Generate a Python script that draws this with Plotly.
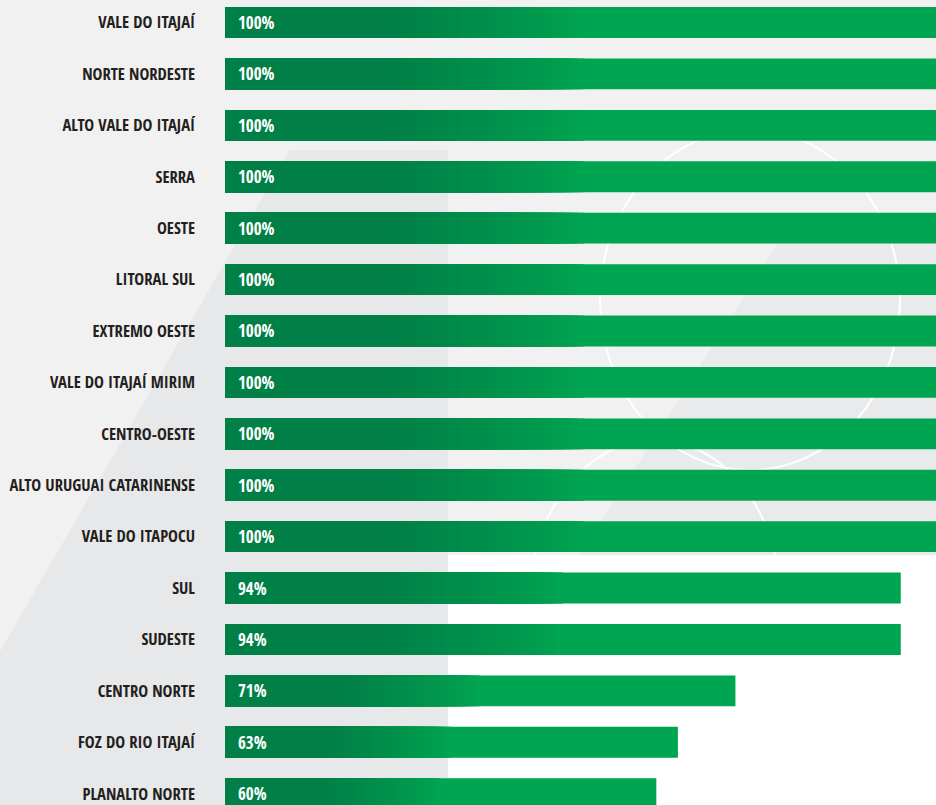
import plotly.graph_objects as go

categories = ["VALE DO ITAJAÍ", "NORTE NORDESTE", "ALTO VALE DO ITAJAÍ", "SERRA", "OESTE",
              "LITORAL SUL", "EXTREMO OESTE", "VALE DO ITAJAÍ MIRIM", "CENTRO-OESTE",
              "ALTO URUGUAI CATARINENSE", "VALE DO ITAPOCU", "SUL", "SUDESTE",
              "CENTRO NORTE", "FOZ DO RIO ITAJAÍ", "PLANALTO NORTE"]
values = [100, 100, 100, 100, 100, 100, 100, 100, 100, 100, 100, 94, 94, 71, 63, 60]
value_labels = [f"{v}%" for v in values]

W, H = 936, 805
ML = 225
DARK = (0, 127, 70)
BRIGHT = (0, 165, 81)
FONT = "Open Sans Condensed, Roboto Condensed, sans-serif"

def mix(t):
    c = [round(BRIGHT[i] + (DARK[i] - BRIGHT[i]) * t) for i in range(3)]
    return f"rgb({c[0]},{c[1]},{c[2]})"

fig = go.Figure()
BW = 0.6
fig.add_trace(go.Bar(y=categories, x=values, orientation="h", width=BW,
                     marker=dict(color=mix(0), line=dict(width=0)), hoverinfo="skip"))
N = 28
f_hi, f_lo = 0.5, 0.23
for k in range(N + 1):
    t = k / N
    f = f_hi - (f_hi - f_lo) * t
    fig.add_trace(go.Bar(y=categories, x=[v * f for v in values], orientation="h", width=BW,
                         marker=dict(color=mix(t ** 0.8), line=dict(width=0)), hoverinfo="skip"))

annotations = []
for c, lab in zip(categories, value_labels):
    annotations.append(dict(x=0, y=c, xref="x", yref="y", text=lab, showarrow=False,
                            xanchor="left", xshift=11, yshift=0,
                            font=dict(family=FONT, size=17, color="white", weight="bold")))

def px(x):
    return (x - ML) / (W - ML)

def py(y):
    return 1 - y / H

shapes = [
    dict(type="rect", xref="paper", yref="paper", x0=px(448), x1=px(940), y0=py(810), y1=py(555),
         fillcolor="white", line=dict(width=0), layer="below"),
    dict(type="path", xref="paper", yref="paper",
         path=f"M {px(-5)},{py(810)} L {px(-5)},{py(660)} L {px(290)},{py(150)} L {px(448)},{py(150)} L {px(448)},{py(810)} Z",
         fillcolor="#E7E8E9", line=dict(width=0), layer="below"),
    dict(type="path", xref="paper", yref="paper",
         path=f"M {px(580)},{py(555)} L {px(780)},{py(240)} L {px(940)},{py(240)} L {px(940)},{py(555)} Z",
         fillcolor="#E9EAEB", line=dict(width=0), layer="below"),
    dict(type="circle", xref="paper", yref="paper", x0=px(530), x1=px(780), y0=py(760), y1=py(440),
         fillcolor="rgba(0,0,0,0)", line=dict(color="white", width=2), layer="below"),
    dict(type="circle", xref="paper", yref="paper", x0=px(600), x1=px(900), y0=py(470), y1=py(130),
         fillcolor="rgba(0,0,0,0)", line=dict(color="white", width=2), layer="below"),
]

fig.update_layout(
    width=W, height=H,
    margin=dict(l=ML, r=0, t=0, b=0, autoexpand=False),
    barmode="overlay",
    showlegend=False,
    paper_bgcolor="#F1F1F1",
    plot_bgcolor="rgba(0,0,0,0)",
    annotations=annotations,
    shapes=shapes,
    xaxis=dict(range=[0, 98.9], showgrid=False, zeroline=False, showticklabels=False,
               showline=False, fixedrange=True, automargin=False),
    yaxis=dict(type="category", categoryorder="array", categoryarray=categories,
               range=[15.22, -0.438], showgrid=False, zeroline=False, showline=False,
               ticks="", ticklabelstandoff=29, automargin=False,
               tickfont=dict(family=FONT, size=16.6, color="#231F20", weight="bold"),
               fixedrange=True),
)

fig.write_html("out.html", config={"displayModeBar": False},
               post_script="document.body.style.margin='0';")
